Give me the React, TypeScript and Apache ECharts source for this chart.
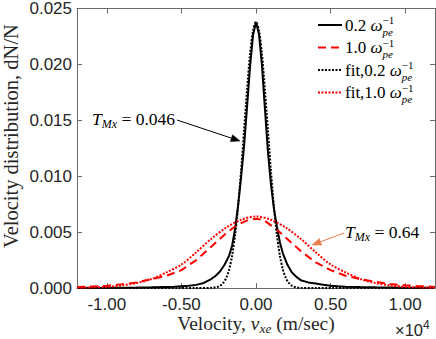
import React, { useEffect, useRef } from 'react';
import * as echarts from 'echarts';

// velocity in units of 1e4 m/s
const xTicks = [-1, -0.5, 0, 0.5, 1];

// data at 0.2 wpe^-1 (solid black)
const v02 = [-1.2, -1.0, -0.8, -0.7, -0.6, -0.55, -0.5, -0.45, -0.4, -0.35, -0.3, -0.27, -0.24, -0.21, -0.18, -0.16, -0.14, -0.12, -0.1, -0.08, -0.06, -0.04, -0.02, 0, 0.02, 0.04, 0.06, 0.08, 0.1, 0.12, 0.14, 0.16, 0.18, 0.21, 0.24, 0.27, 0.3, 0.35, 0.4, 0.45, 0.5, 0.55, 0.6, 0.7, 0.8, 1.0, 1.2];
const f02 = [0.00001, 0.00002, 0.00004, 0.00006, 0.0001, 0.00012, 0.00016, 0.0002, 0.00028, 0.00045, 0.0008, 0.0011, 0.0015, 0.0021, 0.0029, 0.0038, 0.0053, 0.0074, 0.0099, 0.0127, 0.0162, 0.0198, 0.0226, 0.0238, 0.0227, 0.0199, 0.0160, 0.0122, 0.0093, 0.0071, 0.0055, 0.0041, 0.0031, 0.0021, 0.0014, 0.001, 0.0007, 0.0005, 0.0004, 0.0003, 0.0002, 0.00015, 0.00012, 0.00008, 0.00006, 0.00003, 0.00002];

// data at 1.0 wpe^-1 (red dashed)
const v10 = [-1.2, -1.1, -1.0, -0.9, -0.8, -0.7, -0.6, -0.5, -0.4, -0.3, -0.2, -0.15, -0.1, -0.05, 0, 0.05, 0.1, 0.15, 0.2, 0.3, 0.4, 0.5, 0.6, 0.7, 0.8, 0.9, 1.0, 1.1, 1.2];
const f10 = [0.0001, 0.00014, 0.0002, 0.00033, 0.0005, 0.0008, 0.0011, 0.0016, 0.0025, 0.0037, 0.0049, 0.0054, 0.0058, 0.0061, 0.0062, 0.0061, 0.0056, 0.0051, 0.0045, 0.0033, 0.0023, 0.0016, 0.0011, 0.0008, 0.00055, 0.00035, 0.00025, 0.00016, 0.0001];

// fit at 0.2 (black dotted)
const vFit02 = [-1.2, -0.4, -0.3, -0.26, -0.24, -0.22, -0.2, -0.18, -0.16, -0.14, -0.12, -0.1, -0.08, -0.06, -0.04, -0.02, 0, 0.02, 0.04, 0.06, 0.08, 0.1, 0.12, 0.14, 0.16, 0.18, 0.2, 0.22, 0.24, 0.26, 0.3, 0.4, 1.2];
const fFit02 = [0, 0, 0.000015, 0.00009, 0.00021, 0.00045, 0.00089, 0.00166, 0.0029, 0.00475, 0.0073, 0.0105, 0.0141, 0.0177, 0.0209, 0.0230, 0.0238, 0.0230, 0.0209, 0.0177, 0.0141, 0.0105, 0.0073, 0.00475, 0.0029, 0.00166, 0.00089, 0.00045, 0.00021, 0.00009, 0.000015, 0, 0];

// fit at 1.0 (red dotted)
const vFit10 = [-1.2, -1.1, -1.0, -0.9, -0.8, -0.7, -0.6, -0.5, -0.4, -0.3, -0.2, -0.1, 0, 0.1, 0.2, 0.3, 0.4, 0.5, 0.6, 0.7, 0.8, 0.9, 1.0, 1.1, 1.2];
const fFit10 = [0.00002, 0.00005, 0.0001, 0.00023, 0.00045, 0.0008, 0.0014, 0.0021, 0.0032, 0.0044, 0.0054, 0.0061, 0.0064, 0.0061, 0.0054, 0.0044, 0.0032, 0.0021, 0.0014, 0.0008, 0.00045, 0.00023, 0.0001, 0.00005, 0.00002];

const legendLabels = ['0.2 ', '1.0 ', 'fit,0.2 ', 'fit,1.0 '];

const SERIF = '"Liberation Serif", "Times New Roman", serif';
const SANS = '"Liberation Sans", Arial, sans-serif';
const AXIS = '#6b6b6b';
const TXT = '#262626';

type Piece = { t: string; s: number; it?: boolean; dy?: number; na?: boolean; fam?: string };

let ctx: CanvasRenderingContext2D | null = null;
function fontOf(p: Piece) {
  return `${p.it ? 'italic ' : ''}${p.s}px ${p.fam || SERIF}`;
}
function measure(p: Piece) {
  if (!ctx) ctx = document.createElement('canvas').getContext('2d');
  ctx!.font = fontOf(p);
  return ctx!.measureText(p.t).width;
}

function run(pieces: Piece[], x0: number, base: number, align: 'left' | 'center', color: string) {
  const ws = pieces.map(measure);
  let total = 0;
  let pend = 0;
  pieces.forEach((p, i) => {
    if (p.na) pend = ws[i];
    else { total += Math.max(ws[i], pend); pend = 0; }
  });
  total += pend;
  let cur = align === 'center' ? x0 - total / 2 : x0;
  pend = 0;
  const els: any[] = [];
  pieces.forEach((p, i) => {
    els.push({
      type: 'text',
      x: cur,
      y: base - 0.34 * p.s + (p.dy || 0),
      silent: true,
      style: { text: p.t, font: fontOf(p), fill: color, textAlign: 'left', textVerticalAlign: 'middle', align: 'left', verticalAlign: 'middle' },
    });
    if (p.na) pend = ws[i];
    else { cur += Math.max(ws[i], pend); pend = 0; }
  });
  return els;
}

function arrow(x1: number, y1: number, x2: number, y2: number, color: string) {
  const dx = x2 - x1, dy = y2 - y1;
  const L = Math.hypot(dx, dy);
  const ux = dx / L, uy = dy / L;
  const hl = 9, hw = 3.5;
  const bx = x2 - ux * hl, by = y2 - uy * hl;
  return [
    { type: 'line', silent: true, shape: { x1, y1, x2: bx, y2: by }, style: { stroke: color, lineWidth: 1 } },
    {
      type: 'polygon', silent: true,
      shape: { points: [[x2, y2], [bx - uy * hw, by + ux * hw], [bx + uy * hw, by - ux * hw]] },
      style: { fill: color, stroke: color, lineWidth: 0.5 },
    },
  ];
}

const zip = (xs: number[], ys: number[]) => xs.map((x, i) => [x, ys[i]]);

export default function App() {
  const ref = useRef<HTMLDivElement>(null);
  useEffect(() => {
    if (!ref.current) return;
    const chart = echarts.init(ref.current, undefined, { renderer: 'svg' });

    const styles = [
      { color: '#000000', type: 'solid' as any, dash: null },
      { color: '#ff0000', type: [8, 5], dash: [8, 5] },
      { color: '#000000', type: [2, 1.5], dash: [2, 1.5] },
      { color: '#ff0000', type: [2, 1.5], dash: [2, 1.5] },
    ];
    const seriesData = [zip(v02, f02), zip(v10, f10), zip(vFit02, fFit02), zip(vFit10, fFit10)];

    const graphics: any[] = [];
    // legend
    const rowY = [25, 47.5, 70, 92.5];
    legendLabels.forEach((lab, i) => {
      const y = rowY[i];
      graphics.push({
        type: 'line', silent: true,
        shape: { x1: 318, y1: y, x2: 342, y2: y },
        style: { stroke: styles[i].color, lineWidth: 2, lineDash: styles[i].dash || undefined },
      });
      graphics.push(...run([
        { t: lab, s: 17 },
        { t: 'ω', s: 17, it: true },
        { t: '−1', s: 11, dy: -6.6, na: true },
        { t: 'pe', s: 11, it: true, dy: 4.6 },
      ], 345, y + 5.8, 'left', '#000'));
    });

    // annotations
    graphics.push(...run([
      { t: 'T', s: 17.5, it: true },
      { t: 'Mx', s: 12, it: true, dy: 3.5 },
      { t: ' = 0.046', s: 17.5 },
    ], 92, 125, 'left', '#000'));
    graphics.push(...arrow(177, 120, 240, 141, '#000'));

    graphics.push(...run([
      { t: 'T', s: 17.5, it: true },
      { t: 'Mx', s: 12, it: true, dy: 3.5 },
      { t: ' = 0.64', s: 17.5 },
    ], 345, 238, 'left', '#000'));
    graphics.push(...arrow(344, 233, 312, 245, '#e97a4a'));

    // x axis label
    graphics.push(...run([
      { t: 'Velocity, ', s: 19.5 },
      { t: 'v', s: 19.5, it: true },
      { t: 'xe', s: 13.5, it: true, dy: 3.5 },
      { t: ' (m/sec)', s: 19.5 },
    ], 256, 330, 'center', TXT));

    // exponent
    graphics.push(...run([
      { t: '×10', s: 16.5, fam: SANS },
      { t: '4', s: 12, dy: -7, fam: SANS },
    ], 395, 336, 'left', TXT));

    // y axis label
    graphics.push({
      type: 'text', x: 11, y: 136, rotation: Math.PI / 2, silent: true,
      style: { text: 'Velocity distribution, dN/N', font: `20.5px ${SERIF}`, fill: TXT, textAlign: 'center', textVerticalAlign: 'middle', align: 'center', verticalAlign: 'middle' },
    });

    const xBase = {
      type: 'value', min: -1.2, max: 1.2,
      axisLine: { show: true, onZero: false, lineStyle: { color: AXIS, width: 1 } },
      axisTick: { show: true, inside: true, length: 5, customValues: xTicks, lineStyle: { color: AXIS } },
      splitLine: { show: false },
    };
    const yBase = {
      type: 'value', min: 0, max: 0.025, interval: 0.005,
      axisLine: { show: true, onZero: false, lineStyle: { color: AXIS, width: 1 } },
      axisTick: { show: true, inside: true, length: 5, lineStyle: { color: AXIS } },
      splitLine: { show: false },
    };

    chart.setOption({
      animation: false,
      grid: { left: 77, top: 6, right: 1, bottom: 51, containLabel: false },
      xAxis: [
        { ...xBase, position: 'bottom', axisLabel: { customValues: xTicks, formatter: (v: number) => v.toFixed(2), fontSize: 17, fontFamily: SANS, color: TXT, margin: 8 } },
        { ...xBase, position: 'top', axisLabel: { show: false } },
      ],
      yAxis: [
        { ...yBase, position: 'left', axisLabel: { formatter: (v: number) => v.toFixed(3), fontSize: 17, fontFamily: SANS, color: TXT, margin: 5 } },
        { ...yBase, position: 'right', axisLabel: { show: false } },
      ],
      series: seriesData.map((d, i) => ({
        type: 'line',
        data: d,
        symbol: 'none',
        smooth: i >= 2 ? 0.3 : false,
        lineStyle: { color: styles[i].color, width: 2, type: styles[i].type },
        z: 2 + i,
      })),
      graphic: graphics,
    });
    return () => chart.dispose();
  }, []);
  return <div ref={ref} style={{ position: 'fixed', left: 0, top: 0, width: 436, height: 339, background: '#fff' }} />;
}
